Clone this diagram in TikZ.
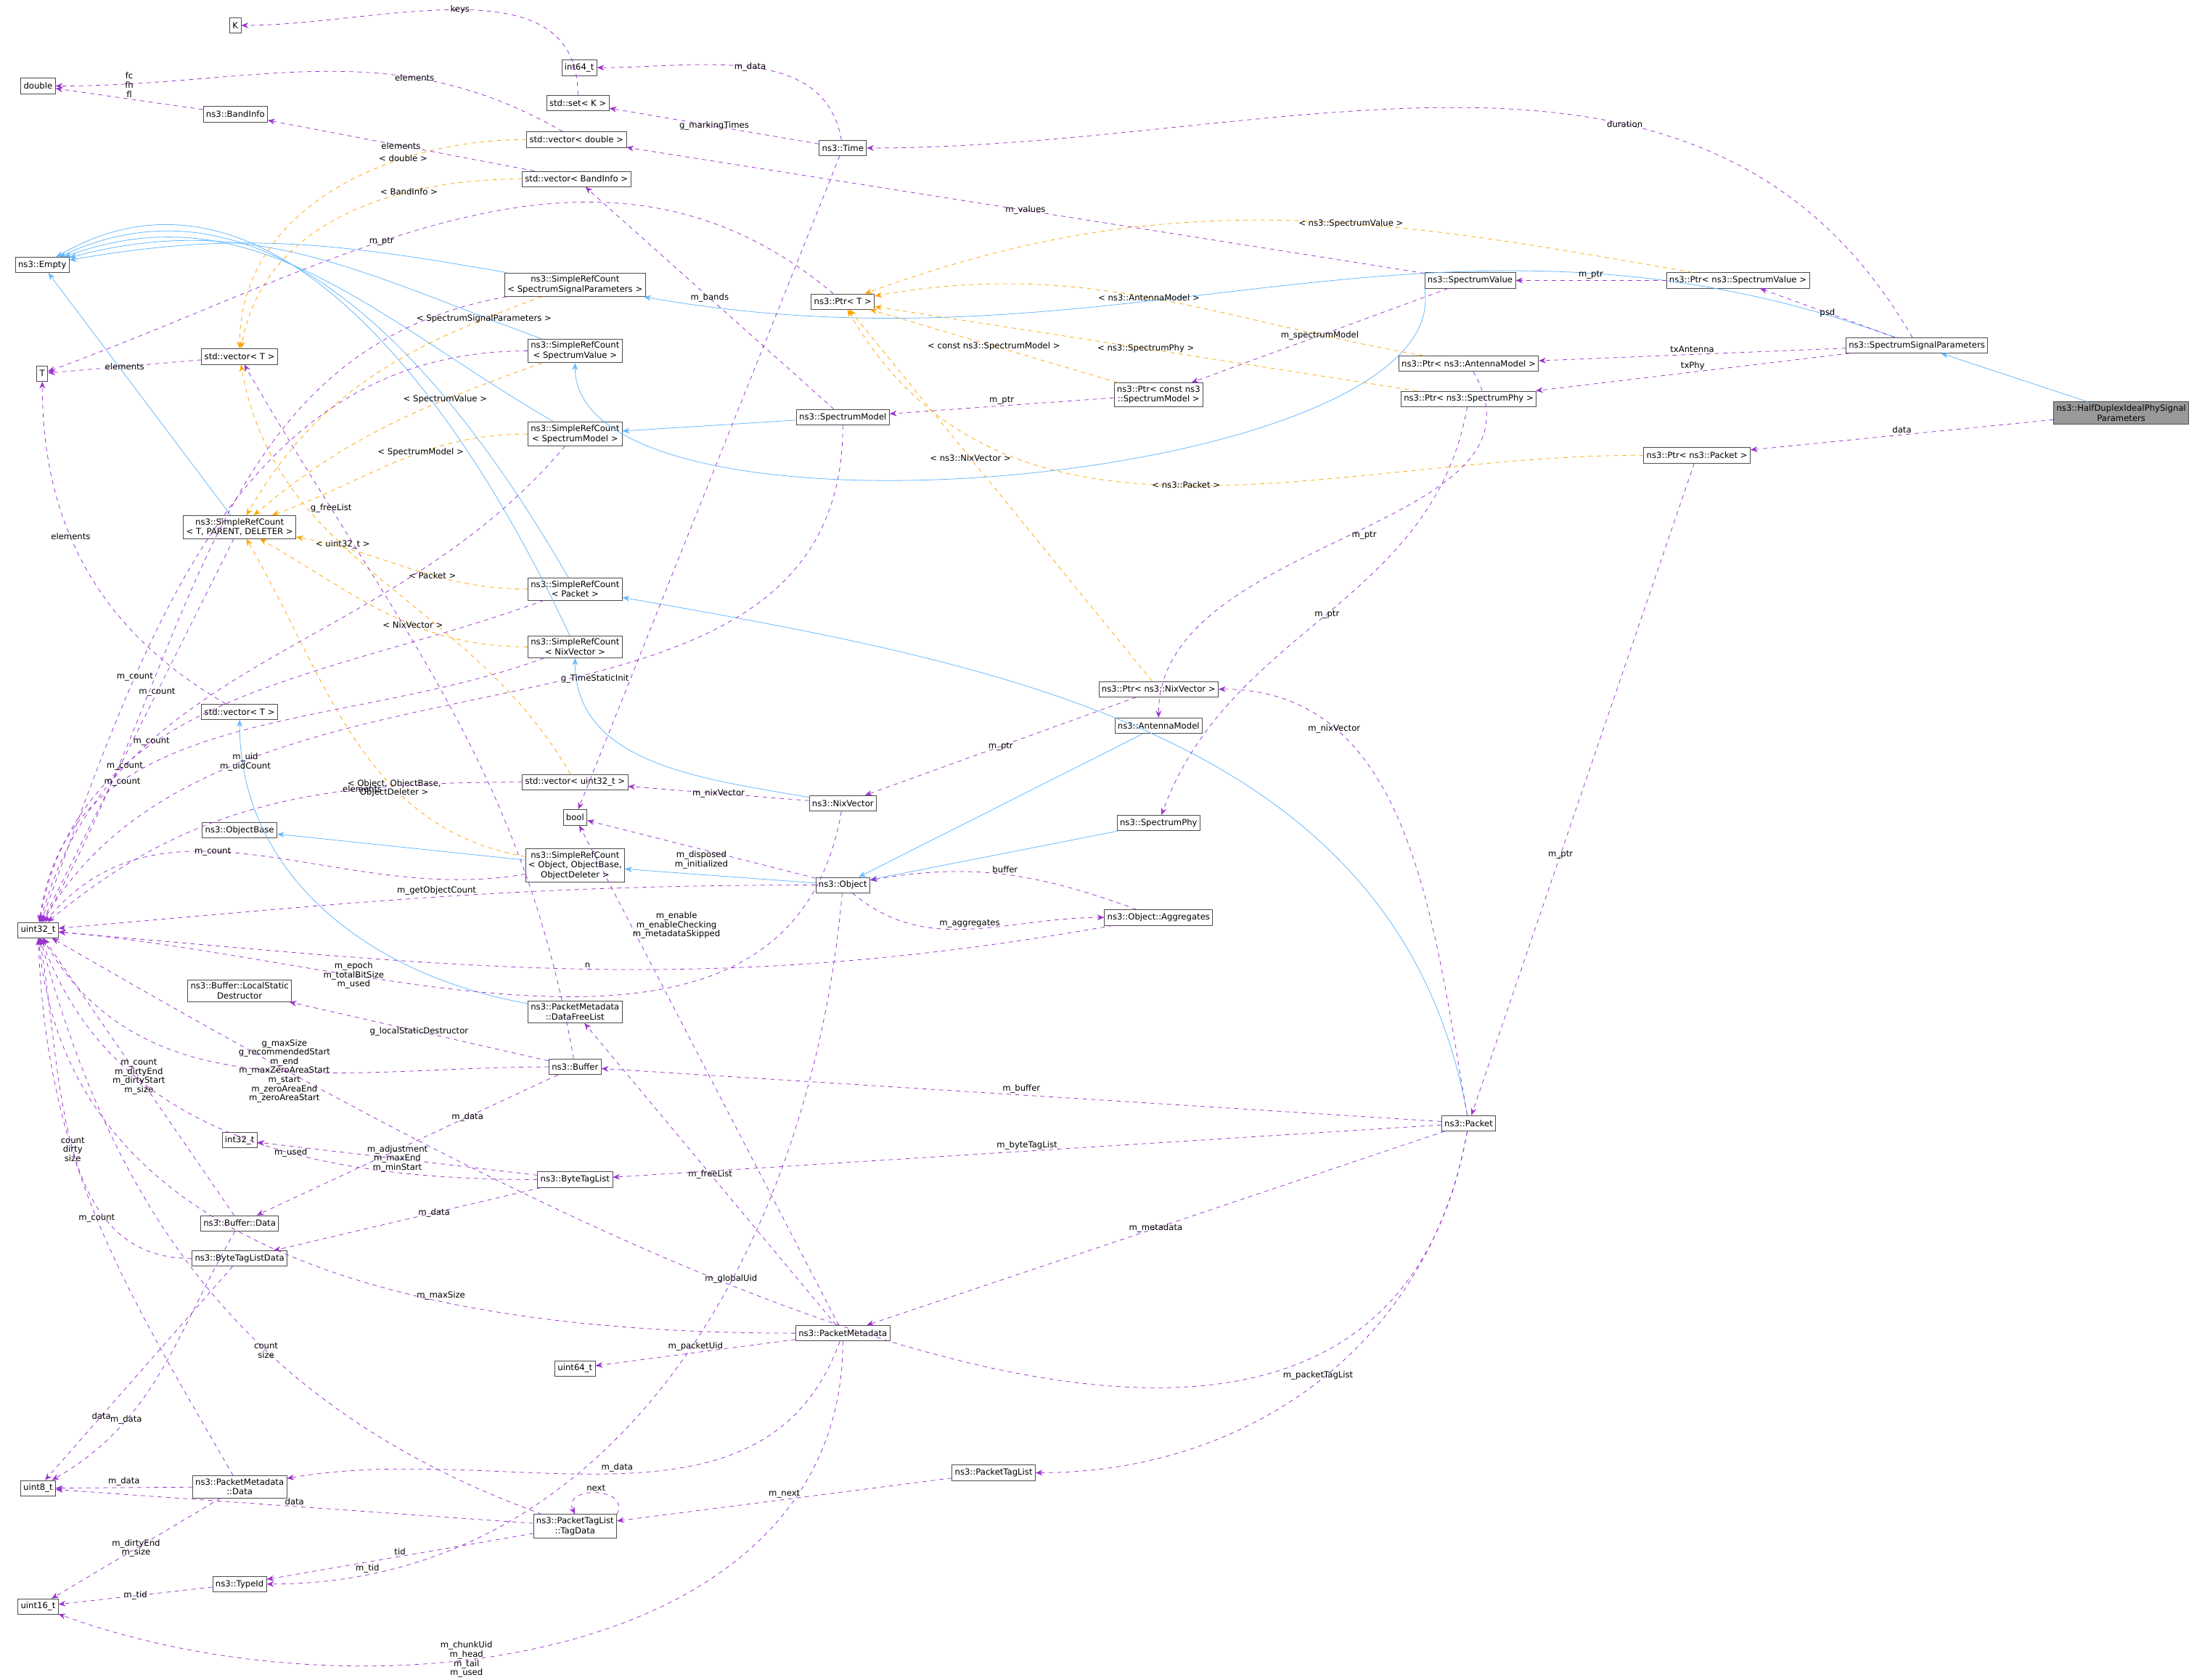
\documentclass[tikz,border=0pt]{standalone}
\usepackage{fontspec}
\setmainfont{DejaVu Sans}
\usetikzlibrary{arrows.meta}
\definecolor{memc}{HTML}{9A32CD}
\definecolor{inhc}{HTML}{63B8FF}
\definecolor{tmc}{HTML}{FFA500}
\begin{document}
\begin{tikzpicture}[x=1pt,y=-1pt,
 box/.style={draw=black!70,fill=white,rectangle,inner sep=2pt,minimum height=11pt,align=center,font=\fontsize{6}{7}\selectfont},
 lab/.style={font=\fontsize{6}{6.5}\selectfont,align=center,text=black,inner sep=1pt},
 mem/.style={draw=memc,dashed,-{Stealth[length=5pt,width=4pt]}},
 inh/.style={draw=inhc,-{Stealth[length=5pt,width=4pt]}},
 tmpl/.style={draw=tmc,dashed,-{Stealth[length=5pt,width=4pt]}}]
\useasboundingbox (0,0) rectangle (1568,1192);
\fill[white] (0,0) rectangle (1568,1192);
% nodes
\node[box] (K) at (167,18) {K};
\node[box] (i64) at (411,48) {int64\_t};
\node[box] (dbl) at (27,61) {double};
\node[box] (setK) at (410,73) {std::set< K >};
\node[box] (band) at (167,81) {ns3::BandInfo};
\node[box] (vdbl) at (409,99) {std::vector< double >};
\node[box] (time) at (598,105) {ns3::Time};
\node[box] (vband) at (409,127) {std::vector< BandInfo >};
\node[box] (empty) at (30,188) {ns3::Empty};
\node[box] (srSSP) at (408,202) {ns3::SimpleRefCount\\< SpectrumSignalParameters >};
\node[box] (ptrT) at (598,214) {ns3::Ptr< T >};
\node[box] (sv) at (1043,199) {ns3::SpectrumValue};
\node[box] (ptrSV) at (1233,199) {ns3::Ptr< ns3::SpectrumValue >};
\node[box] (ssp) at (1360,245) {ns3::SpectrumSignalParameters};
\node[box] (vecT) at (170,253) {std::vector< T >};
\node[box] (T) at (30,265) {T};
\node[box] (srSV) at (408,249) {ns3::SimpleRefCount\\< SpectrumValue >};
\node[box] (ptrAM) at (1042,258) {ns3::Ptr< ns3::AntennaModel >};
\node[box] (ptrSM) at (822,280) {ns3::Ptr< const ns3\\::SpectrumModel >};
\node[box] (ptrSP) at (1042,283) {ns3::Ptr< ns3::SpectrumPhy >};
\node[box,fill=black!40] (hd) at (1505,293) {ns3::HalfDuplexIdealPhySignal\\Parameters};
\node[box] (sm) at (598,296) {ns3::SpectrumModel};
\node[box] (srSM) at (408,308) {ns3::SimpleRefCount\\< SpectrumModel >};
\node[box] (ptrPk) at (1204,323) {ns3::Ptr< ns3::Packet >};
\node[box] (srTPD) at (170,374) {ns3::SimpleRefCount\\< T, PARENT, DELETER >};
\node[box] (srPk) at (408,418) {ns3::SimpleRefCount\\< Packet >};
\node[box] (srNV) at (408,459) {ns3::SimpleRefCount\\< NixVector >};
\node[box] (ptrNV) at (822,489) {ns3::Ptr< ns3::NixVector >};
\node[box] (am) at (822,515) {ns3::AntennaModel};
\node[box] (vecT2) at (170,505) {std::vector< T >};
\node[box] (vu32) at (408,555) {std::vector< uint32\_t >};
\node[box] (bool) at (408,580) {bool};
\node[box] (nv) at (598,570) {ns3::NixVector};
\node[box] (sp) at (822,584) {ns3::SpectrumPhy};
\node[box] (ob) at (170,589) {ns3::ObjectBase};
\node[box] (srObj) at (408,614) {ns3::SimpleRefCount\\< Object, ObjectBase,\\ObjectDeleter >};
\node[box] (obj) at (598,628) {ns3::Object};
\node[box] (agg) at (822,651) {ns3::Object::Aggregates};
\node[box] (u32) at (27,660) {uint32\_t};
\node[box] (lsd) at (170,703) {ns3::Buffer::LocalStatic\\Destructor};
\node[box] (dfl) at (408,718) {ns3::PacketMetadata\\::DataFreeList};
\node[box] (buf) at (408,757) {ns3::Buffer};
\node[box] (pkt) at (1042,797) {ns3::Packet};
\node[box] (i32) at (170,809) {int32\_t};
\node[box] (btl) at (408,837) {ns3::ByteTagList};
\node[box] (bdata) at (170,868) {ns3::Buffer::Data};
\node[box] (btld) at (170,893) {ns3::ByteTagListData};
\node[box] (pm) at (598,946) {ns3::PacketMetadata};
\node[box] (u64) at (408,971) {uint64\_t};
\node[box] (u8) at (27,1056) {uint8\_t};
\node[box] (pmd) at (170,1055) {ns3::PacketMetadata\\::Data};
\node[box] (ptl) at (705,1045) {ns3::PacketTagList};
\node[box] (td) at (408,1083) {ns3::PacketTagList\\::TagData};
\node[box] (tid) at (170,1124) {ns3::TypeId};
\node[box] (u16) at (27,1140) {uint16\_t};
% inheritance
\draw[inh] (srSSP) to[out=170,in=10] (empty);
\draw[inh] (srSV) to[out=160,in=15] (empty);
\draw[inh] (srSM) to[out=150,in=20] (empty);
\draw[inh] (srPk) to[out=120,in=25] (empty);
\draw[inh] (srNV) to[out=115,in=30] (empty);
\draw[inh] (srTPD) -- (empty);
\draw[inh] (ssp) to[out=160,in=-10] (srSSP);
\draw[inh] (sv.south west) to[out=-80,in=-90,looseness=0.6] (srSV);
\draw[inh] (sm) -- (srSM);
\draw[inh] (pkt) to[out=100,in=-10] (srPk);
\draw[inh] (nv) to[out=170,in=-90] (srNV);
\draw[inh] (obj) -- (srObj);
\draw[inh] (srObj) -- (ob);
\draw[inh] (dfl) to[out=170,in=-90] (vecT2);
\draw[inh] (am) -- (obj);
\draw[inh] (sp) -- (obj);
\draw[inh] (hd) -- (ssp);
% templates
\draw[tmpl] (vdbl) to[out=180,in=90] node[lab,pos=.3]{< double >} (vecT);
\draw[tmpl] (vband) to[out=180,in=80] node[lab,pos=.3]{< BandInfo >} (vecT);
\draw[tmpl] (vu32) to[out=120,in=-80] node[lab,pos=.6]{< uint32\_t >} (vecT);
\draw[tmpl] (srSSP) to[out=200,in=60] node[lab,pos=.15]{< SpectrumSignalParameters >} (srTPD);
\draw[tmpl] (srSV) to[out=200,in=40] node[lab,pos=.3]{< SpectrumValue >} (srTPD);
\draw[tmpl] (srSM) to[out=180,in=20] node[lab,pos=.4]{< SpectrumModel >} (srTPD);
\draw[tmpl] (srPk) to[out=180,in=-10] node[lab,pos=.4]{< Packet >} (srTPD);
\draw[tmpl] (srNV) to[out=180,in=-30] node[lab,pos=.4]{< NixVector >} (srTPD);
\draw[tmpl] (srObj) to[out=170,in=-60] node[lab,pos=.35]{< Object, ObjectBase,\\ObjectDeleter >} (srTPD);
\draw[tmpl] (ptrSV) to[out=170,in=20] node[lab,pos=.4]{< ns3::SpectrumValue >} (ptrT);
\draw[tmpl] (ptrAM) to[out=170,in=10] node[lab,pos=.5]{< ns3::AntennaModel >} (ptrT);
\draw[tmpl] (ptrSM) -- node[lab]{< const ns3::SpectrumModel >} (ptrT);
\draw[tmpl] (ptrSP) -- node[lab]{< ns3::SpectrumPhy >} (ptrT);
\draw[tmpl] (ptrPk) to[out=180,in=-60] node[lab,pos=.5]{< ns3::Packet >} (ptrT);
\draw[tmpl] (ptrNV) -- node[lab,pos=.6]{< ns3::NixVector >} (ptrT);
% members
\draw[mem] (setK) to[out=90,in=0] node[lab]{keys} (K);
\draw[mem] (vdbl) to[out=150,in=0] node[lab,pos=.3]{elements} (dbl);
\draw[mem] (band) -- node[lab,above]{fc\\fh\\fl} (dbl);
\draw[mem] (vband) -- node[lab]{elements} (band);
\draw[mem] (time) to[out=100,in=0] node[lab]{m\_data} (i64);
\draw[mem] (time) -- node[lab]{g\_markingTimes} (setK);
\draw[mem] (time) -- node[lab,pos=.8,left]{g\_TimeStaticInit} (bool);
\draw[mem] (sv) -- node[lab]{m\_values} (vdbl);
\draw[mem] (ssp) to[out=120,in=0] node[lab,pos=.35]{duration} (time);
\draw[mem] (ptrT) to[out=140,in=20] node[lab,pos=.6]{m\_ptr} (T);
\draw[mem] (vecT) -- node[lab]{elements} (T);
\draw[mem] (sm) -- node[lab]{m\_bands} (vband);
\draw[mem] (sv) -- node[lab]{m\_spectrumModel} (ptrSM);
\draw[mem] (ptrSV) -- node[lab,above]{m\_ptr} (sv);
\draw[mem] (ssp) -- node[lab]{psd} (ptrSV);
\draw[mem] (ssp) -- node[lab,above]{txAntenna} (ptrAM);
\draw[mem] (ssp) -- node[lab,above]{txPhy} (ptrSP);
\draw[mem] (hd) -- node[lab,above]{data} (ptrPk);
\draw[mem] (ptrSM) -- node[lab,above]{m\_ptr} (sm);
\draw[mem] (srSSP) to[out=190,in=60] (u32);
\draw[mem] (srSV) to[out=180,in=70] node[lab,pos=.7]{m\_count} (u32);
\draw[mem] (srSM) to[out=230,in=75] node[lab,pos=.7]{m\_count} (u32);
\draw[mem] (srTPD) -- node[lab,pos=.4]{m\_count} (u32);
\draw[mem] (srPk) to[out=200,in=80] node[lab,pos=.7]{m\_count} (u32);
\draw[mem] (srNV) to[out=200,in=82] node[lab,pos=.7]{m\_count} (u32);
\draw[mem] (srObj) to[out=190,in=50] node[lab,pos=.6]{m\_count} (u32);
\draw[mem] (sm) to[out=-90,in=60] node[lab,pos=.75]{m\_uid\\m\_uidCount} (u32);
\draw[mem] (ptrAM) to[out=-60,in=90] node[lab,right,pos=.5]{m\_ptr} (am);
\draw[mem] (ptrSP) to[out=-100,in=70] node[lab,pos=.5]{m\_ptr} (sp);
\draw[mem] (ptrPk) -- node[lab,pos=.6]{m\_ptr} (pkt);
\draw[mem] (ptrNV) -- node[lab]{m\_ptr} (nv);
\draw[mem] (pkt) to[out=100,in=0] node[lab,pos=.75]{m\_nixVector} (ptrNV);
\draw[mem] (vecT2) to[out=150,in=-90] node[lab,pos=.6]{elements} (T);
\draw[mem] (vu32) to[out=180,in=40] node[lab,pos=.3]{elements} (u32);
\draw[mem] (nv) -- node[lab]{m\_nixVector} (vu32);
\draw[mem] (nv) to[out=-100,in=-5] node[lab,pos=.7]{m\_epoch\\m\_totalBitSize\\m\_used} (u32);
\draw[mem] (obj) -- node[lab,below]{m\_disposed\\m\_initialized} (bool);
\draw[mem] (obj) to[out=180,in=5] node[lab,pos=.5,above]{m\_getObjectCount} (u32);
\draw[mem] (obj) to[out=-40,in=180] node[lab,above]{m\_aggregates} (agg);
\draw[mem] (agg) to[out=160,in=10] node[lab,above]{buffer} (obj);
\draw[mem] (agg) to[out=190,in=-5] node[lab,pos=.5,above]{n} (u32);
\draw[mem] (obj) to[out=-95,in=0] node[lab,pos=.9,above]{m\_tid} (tid);
\draw[mem] (buf) -- node[lab]{g\_localStaticDestructor} (lsd);
\draw[mem] (buf) to[out=180,in=-60] node[lab,pos=.45]{g\_maxSize\\g\_recommendedStart\\m\_end\\m\_maxZeroAreaStart\\m\_start\\m\_zeroAreaEnd\\m\_zeroAreaStart} (u32);
\draw[mem] (buf) -- node[lab,pos=.3]{m\_data} (bdata);
\draw[mem] (buf) to[out=100,in=-60] node[lab,pos=.8]{g\_freeList} (vecT);
\draw[mem] (pkt) -- node[lab,above]{m\_buffer} (buf);
\draw[mem] (pkt) -- node[lab,above]{m\_byteTagList} (btl);
\draw[mem] (pkt) -- node[lab]{m\_metadata} (pm);
\draw[mem] (pkt) to[out=-100,in=-30] node[lab,pos=.6,above]{m\_globalUid} (u32);
\draw[mem] (pkt) to[out=-100,in=0] node[lab,above]{m\_packetTagList} (ptl);
\draw[mem] (btl) -- node[lab]{m\_adjustment\\m\_maxEnd\\m\_minStart} (i32);
\draw[mem] (btl) to[out=180,in=-70] node[lab,pos=.4]{m\_used} (u32);
\draw[mem] (btl) -- node[lab,pos=.4]{m\_data} (btld);
\draw[mem] (bdata) -- node[lab]{m\_count\\m\_dirtyEnd\\m\_dirtyStart\\m\_size} (u32);
\draw[mem] (bdata) to[out=-120,in=30] node[lab,pos=.7]{m\_data} (u8);
\draw[mem] (btld) to[out=180,in=-80] node[lab,pos=.5]{count\\dirty\\size} (u32);
\draw[mem] (btld) -- node[lab,pos=.7]{data} (u8);
\draw[mem] (pm) to[out=180,in=-85] node[lab,above,pos=.35]{m\_maxSize} (u32);
\draw[mem] (pm) -- node[lab,above]{m\_packetUid} (u64);
\draw[mem] (pm) to[out=-110,in=10] node[lab,above]{m\_data} (pmd);
\draw[mem] (pm) -- node[lab]{m\_freeList} (dfl);
\draw[mem] (pm) -- node[lab,pos=.8,right]{m\_enable\\m\_enableChecking\\m\_metadataSkipped} (bool);
\draw[mem] (pm) to[out=-90,in=-20] node[lab,pos=.6]{m\_chunkUid\\m\_head\\m\_tail\\m\_used} (u16);
\draw[mem] (pmd) to[out=120,in=-88] node[lab,pos=.5]{m\_count} (u32);
\draw[mem] (pmd) -- node[lab,above]{m\_data} (u8);
\draw[mem] (pmd) -- node[lab]{m\_dirtyEnd\\m\_size} (u16);
\draw[mem] (ptl) -- node[lab,above]{m\_next} (td);
\draw[mem] (td.north east) .. controls +(10,-20) and +(-10,-20) .. node[lab,above]{next} (td.north);
\draw[mem] (td) to[out=160,in=-75] node[lab,pos=.4]{count\\size} (u32);
\draw[mem] (td) -- node[lab,above]{data} (u8);
\draw[mem] (td) -- node[lab,above]{tid} (tid);
\draw[mem] (tid) -- node[lab]{m\_tid} (u16);
\end{tikzpicture}
\end{document}
